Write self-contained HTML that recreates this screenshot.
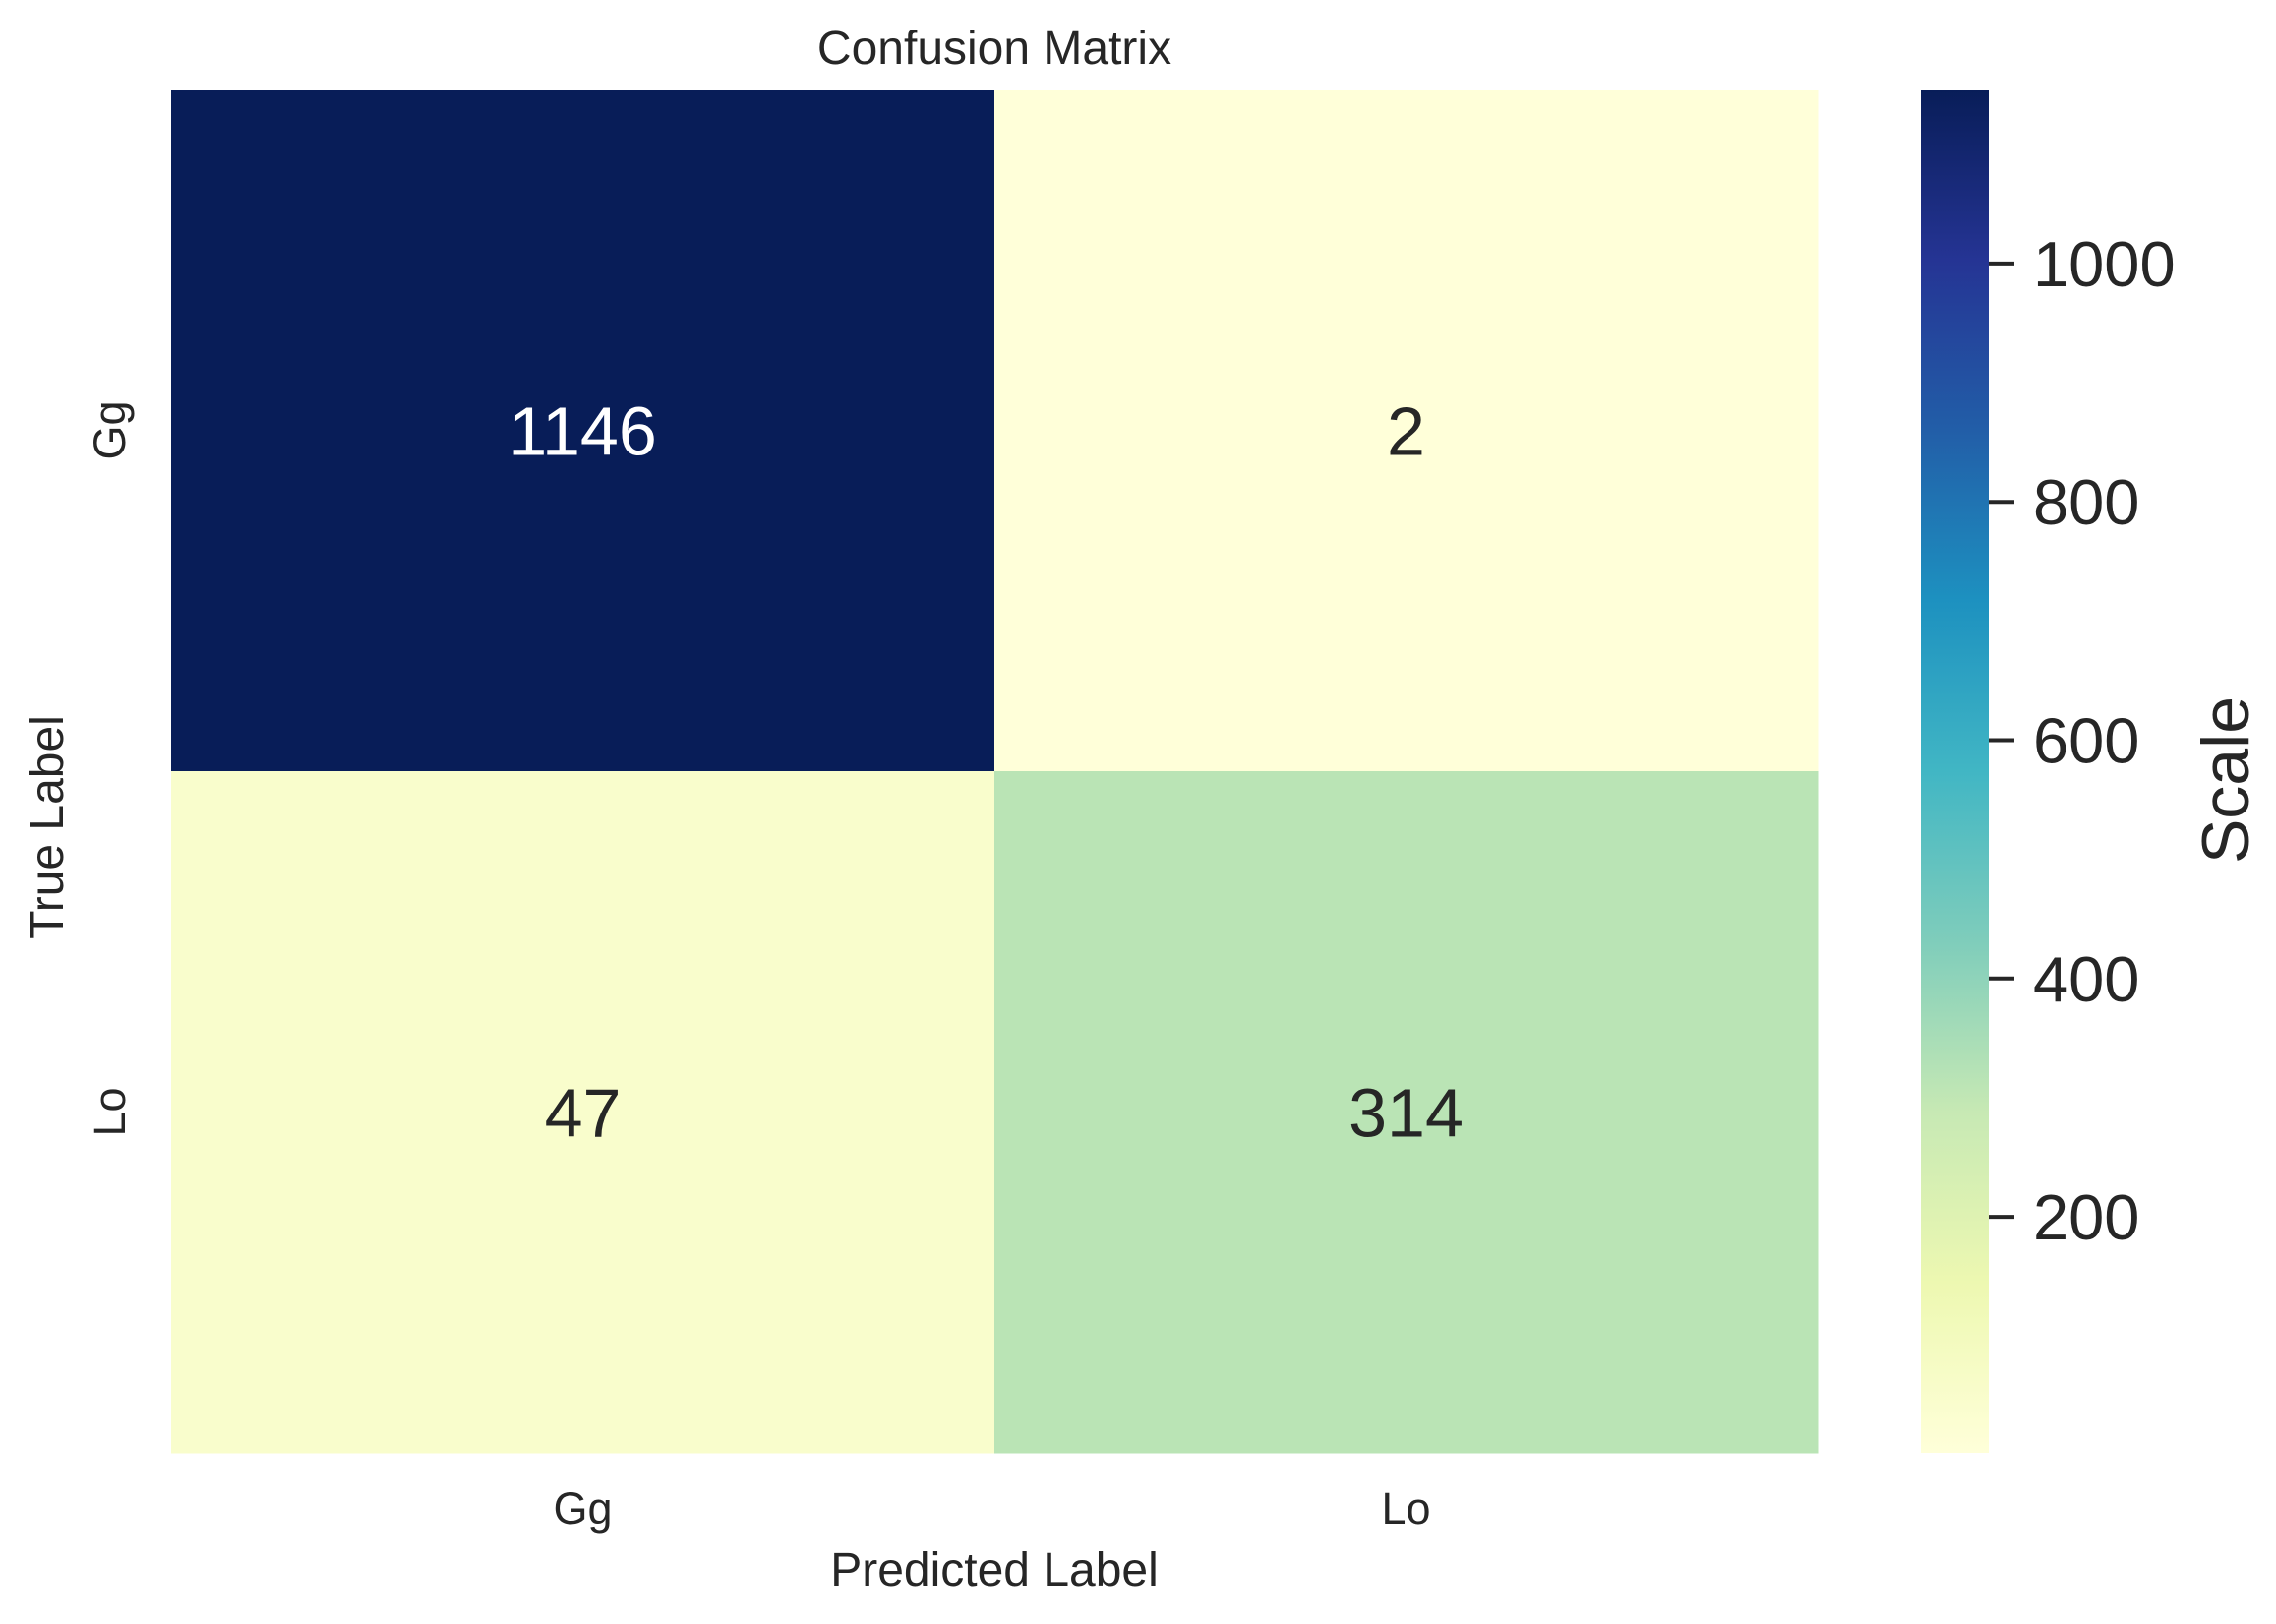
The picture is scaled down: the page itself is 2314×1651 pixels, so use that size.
<!DOCTYPE html>
<html><head><meta charset="utf-8"><style>
html,body{margin:0;padding:0;background:#fff;}
svg{display:block;font-family:"Liberation Sans",Arial,sans-serif;}
</style></head>
<body>
<svg id="chart" width="2314" height="1651" viewBox="0 0 2314 1651" xmlns="http://www.w3.org/2000/svg">
<defs>
<linearGradient id="cbgrad" x1="0" y1="1" x2="0" y2="0"></linearGradient>
</defs>
<text x="1011" y="65" font-size="48" text-anchor="middle" fill="#262626">Confusion Matrix</text>
<g id="cells"></g>
<g id="annots"></g>
<g id="xticks"></g>
<g id="yticks"></g>
<text x="1011" y="1612" font-size="48" text-anchor="middle" fill="#262626">Predicted Label</text>
<text x="0" y="0" font-size="48" text-anchor="middle" fill="#262626" transform="translate(64,841) rotate(-90)">True Label</text>
<rect x="1953" y="91" width="69" height="1386" fill="url(#cbgrad)"/>
<g id="cbticks"></g>
<text x="0" y="0" font-size="68" text-anchor="middle" fill="#262626" transform="translate(2286,793) rotate(-90)">Scale</text>
</svg>
<script>
const rowLabels = ["Gg", "Lo"];
const colLabels = ["Gg", "Lo"];
const row0 = [1146, 2];
const row1 = [47, 314];
const cbTicks = [200, 400, 600, 800, 1000];

const NS = "http://www.w3.org/2000/svg";
const matrix = [row0, row1];
const all = row0.concat(row1);
const vmin = Math.min(...all), vmax = Math.max(...all);
const L = 174, R = 1848, T = 91, B = 1477;
const cw = (R - L) / colLabels.length, rh = (B - T) / rowLabels.length;
const cbT = 91, cbB = 1477, cbX = 2022;
const stops = ["#ffffd9","#edf8b1","#c7e9b4","#7fcdbb","#41b6c4","#1d91c0","#225ea8","#253494","#081d58"];
function hex(h){return [1,3,5].map(i=>parseInt(h.substr(i,2),16));}
function cmap(t){
  t = Math.max(0, Math.min(1, t));
  const p = t * (stops.length - 1), i = Math.min(Math.floor(p), stops.length - 2), f = p - i;
  const a = hex(stops[i]), b = hex(stops[i+1]);
  return "rgb(" + a.map((v,k)=>Math.round(v + (b[k]-v)*f)).join(",") + ")";
}
function norm(v){return (v - vmin) / (vmax - vmin);}
function cbY(v){return cbB - norm(v) * (cbB - cbT);}
function mk(tag, attrs, parent){
  const e = document.createElementNS(NS, tag);
  for (const k in attrs) e.setAttribute(k, attrs[k]);
  parent.appendChild(e);
  return e;
}
const grad = document.getElementById("cbgrad");
stops.forEach((c,i)=>mk("stop",{offset:(i/(stops.length-1)),"stop-color":c},grad));

const cells = document.getElementById("cells"), ann = document.getElementById("annots");
matrix.forEach((row, r) => row.forEach((v, c) => {
  const rc = mk("rect",{x:L + c*cw, y:T + r*rh, width:cw+0.5, height:rh+0.5, fill:cmap(norm(v))}, cells);
  
  
  const t = mk("text",{x:L + (c+0.5)*cw, y:T + (r+0.5)*rh + 25, "font-size":70, "text-anchor":"middle", fill: norm(v) > 0.5 ? "#ffffff" : "#262626"}, ann);
  t.textContent = v;
  
  
}));
const xt = document.getElementById("xticks");
colLabels.forEach((l, c) => {
  const t = mk("text",{x:L + (c+0.5)*cw, y:1549, "font-size":45, "text-anchor":"middle", fill:"#262626"}, xt);
  t.textContent = l;
  
  
});
const yt = document.getElementById("yticks");
rowLabels.forEach((l, r) => {
  const t = mk("text",{x:0, y:0, "font-size":45, "text-anchor":"middle", fill:"#262626", transform:"translate(127," + (T + (r+0.5)*rh) + ") rotate(-90)"}, yt);
  t.textContent = l;
  
  
});
const cbt = document.getElementById("cbticks");
cbTicks.forEach(v => {
  const y = cbY(v);
  const ln = mk("line",{x1:cbX, x2:cbX+26, y1:y, y2:y, stroke:"#262626", "stroke-width":4}, cbt);
  
  
  const t = mk("text",{x:cbX+45, y:y+23, "font-size":65, fill:"#262626"}, cbt);
  t.textContent = v;
  
  
});
</script>
</body></html>
